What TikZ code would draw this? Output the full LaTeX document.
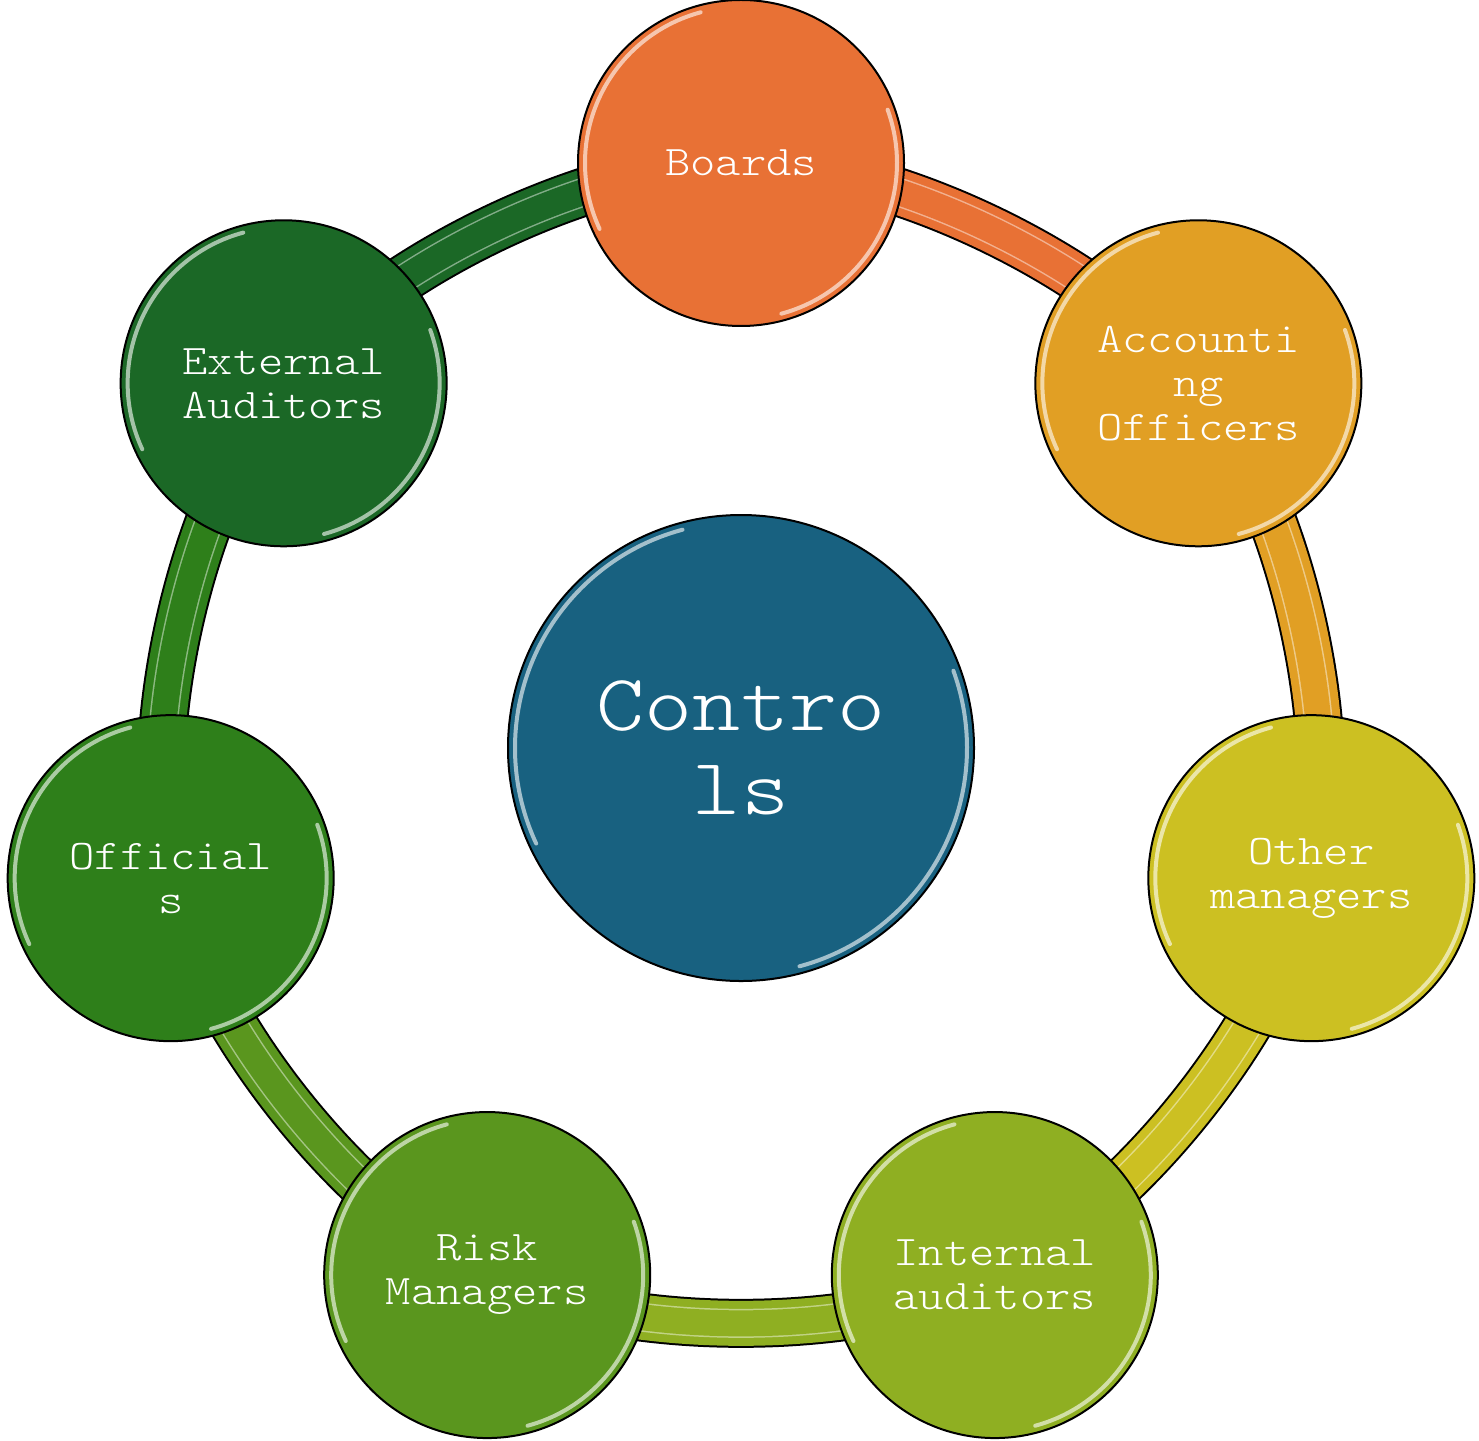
\documentclass[tikz,border=0pt]{standalone}
\usepackage{fontspec}
\newfontfamily\courfont[FakeStretch=1.143]{Latin Modern Mono Light}
\usetikzlibrary{calc,backgrounds}

\definecolor{hubc}{HTML}{186180}
\definecolor{boardsc}{HTML}{E87135}
\definecolor{officersc}{HTML}{E19F24}
\definecolor{managersc}{HTML}{CCC022}
\definecolor{internalc}{HTML}{8FAF22}
\definecolor{riskc}{HTML}{5A961E}
\definecolor{officialsc}{HTML}{2E7F1A}
\definecolor{externalc}{HTML}{1B6826}

\tikzset{
  ball/.style={circle, fill=#1, draw=black, line width=0.02cm, text=white,
    align=center, inner sep=0pt,
    path picture={
      \draw[#1!40!white, line width=0.04cm, line cap=round]
        let \p1=(path picture bounding box.north east),
            \p2=(path picture bounding box.center),
            \n1={\x1-\x2-0.07cm} in
        ([shift={(105:\n1)}]\p2) arc[start angle=105, end angle=205, radius=\n1]
        ([shift={(-75:\n1)}]\p2) arc[start angle=-75, end angle=20, radius=\n1];
    }},
  petal/.style={ball=#1, minimum size=3.26cm,
    font=\courfont\fontsize{12}{12.5}\selectfont},
  hub/.style={ball=#1, minimum size=4.66cm,
    font=\courfont\fontsize{22.8}{24}\selectfont},
  ring/.style={draw=black, line width=0.02cm, double=#1, double distance=0.45cm,
    postaction={draw=#1!55!white, line width=0.015cm, double=#1, double distance=0.26cm}},
}

\begin{document}
\begin{tikzpicture}
\useasboundingbox (-7.41,-6.92) rectangle (7.38,7.48);
% centre
\node[hub=hubc] (controls) at (0,0) {Contro\\ls};
% ring of roles
\node[petal=boardsc] (boards) at (90:5.85) {Boards};
\node[petal=officersc] (officers) at (38.571:5.85) {Accounti\\ng\\Officers};
\node[petal=managersc] (managers) at (-12.857:5.85) {Other\\managers};
\node[petal=internalc] (internal) at (-64.286:5.85) {Internal\\auditors};
\node[petal=riskc] (risk) at (-115.714:5.85) {Risk\\Managers};
\node[petal=officialsc] (officials) at (-167.143:5.85) {Official\\s};
\node[petal=externalc] (external) at (141.429:5.85) {External\\Auditors};
% connecting arcs
\begin{scope}[on background layer]
\draw[ring=boardsc] (boards.center) to[bend left=25.7, looseness=0.75] (officers.center);
\draw[ring=officersc] (officers.center) to[bend left=25.7, looseness=0.75] (managers.center);
\draw[ring=managersc] (managers.center) to[bend left=25.7, looseness=0.75] (internal.center);
\draw[ring=internalc] (internal.center) to[bend left=25.7, looseness=0.75] (risk.center);
\draw[ring=riskc] (risk.center) to[bend left=25.7, looseness=0.75] (officials.center);
\draw[ring=officialsc] (officials.center) to[bend left=25.7, looseness=0.75] (external.center);
\draw[ring=externalc] (external.center) to[bend left=25.7, looseness=0.75] (boards.center);
\end{scope}
\end{tikzpicture}
\end{document}
